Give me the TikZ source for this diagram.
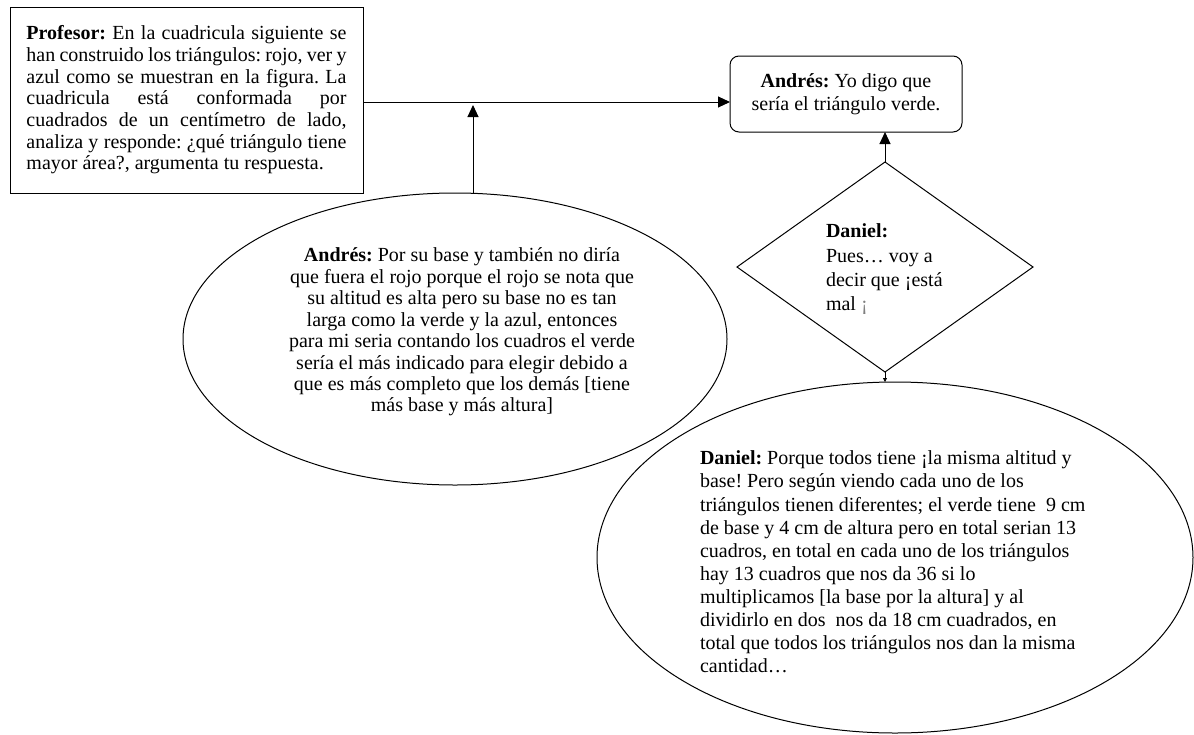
\documentclass[tikz,border=0pt]{standalone}
\usepackage{fontspec}
\setmainfont{Liberation Serif}
\usetikzlibrary{shapes.geometric,arrows.meta}
\frenchspacing
\begin{document}
\begin{tikzpicture}[x=1pt,y=-1pt,
  every node/.style={inner sep=0pt, outer sep=0pt},
  shapeline/.style={draw, line width=1pt},
  conn/.style={line width=1pt,-{Triangle[length=12pt,width=11pt]}},
  smallconn/.style={line width=0.8pt,-{Triangle[length=4pt,width=4pt]}}]
\useasboundingbox (0,0) rectangle (1194,734);

% Profesor box
\node[shapeline, minimum width=353pt, minimum height=186pt, align=left,
      font=\fontsize{20}{21.7}\selectfont] (prof) at (186.5,100)
 {\makebox[320pt][s]{\textbf{Profesor:} En la cuadricula siguiente se}\\
  \makebox[320pt][s]{han construido los triángulos: rojo, ver y}\\
  \makebox[320pt][s]{azul como se muestran en la figura. La}\\
  \makebox[320pt][s]{cuadricula está conformada por}\\
  \makebox[320pt][s]{cuadrados de un centímetro de lado,}\\
  \makebox[320pt][s]{analiza y responde: ¿qué triángulo tiene}\\
  mayor área?, argumenta tu respuesta.};

% Andres box
\node[shapeline, rounded corners=9pt, minimum width=232pt, minimum height=76pt,
      align=center, font=\fontsize{20}{23}\selectfont] (andres) at (846,94)
 {\textbf{Andrés:} Yo digo que\\sería el triángulo verde.};

% Diamond
\node[shapeline, diamond, minimum width=296pt, minimum height=210pt] (dia) at (885,267) {};
\node[anchor=north west, align=left, font=\fontsize{20}{24.3}\selectfont] (diat) at (826,224)
 {\textbf{Daniel:}\\Pues… voy a\\decir que ¡está\\mal {\color{gray}¡}};

% Andres ellipse
\node[shapeline, ellipse, minimum width=544pt, minimum height=292pt] (ae) at (455,339) {};
\node[anchor=north, align=center, font=\fontsize{20}{21.43}\selectfont] (aet) at (462,248)
 {\textbf{Andrés:} Por su base y también no diría\\
  que fuera el rojo porque el rojo se nota que\\
  su altitud es alta pero su base no es tan\\
  larga como la verde y la azul, entonces\\
  para mi seria contando los cuadros el verde\\
  sería el más indicado para elegir debido a\\
  que es más completo que los demás [tiene\\
  más base y más altura]};

% Daniel ellipse
\node[shapeline, ellipse, minimum width=596pt, minimum height=351pt] (de) at (895,557.5) {};
\node[anchor=north west, align=left, font=\fontsize{20}{23.1}\selectfont] (det) at (700,451)
 {\textbf{Daniel:} Porque todos tiene ¡la misma altitud y\\
  base! Pero según viendo cada uno de los\\
  triángulos tienen diferentes; el verde tiene\ \ 9 cm\\
  de base y 4 cm de altura pero en total serian 13\\
  cuadros, en total en cada uno de los triángulos\\
  hay 13 cuadros que nos da 36 si lo\\
  multiplicamos [la base por la altura] y al\\
  dividirlo en dos\ \ nos da 18 cm cuadrados, en\\
  total que todos los triángulos nos dan la misma\\
  cantidad…};

% connectors
\coordinate (j) at (473,102);
\draw[conn] (prof.east |- j) -- (andres.west |- j);
\draw[conn, shorten >=3pt] (ae.north -| j) -- (j);
\draw[conn] (dia.north) -- (dia.north |- andres.south);
\draw[smallconn] (dia.south) -- (dia.south |- de.north);
\end{tikzpicture}
\end{document}
